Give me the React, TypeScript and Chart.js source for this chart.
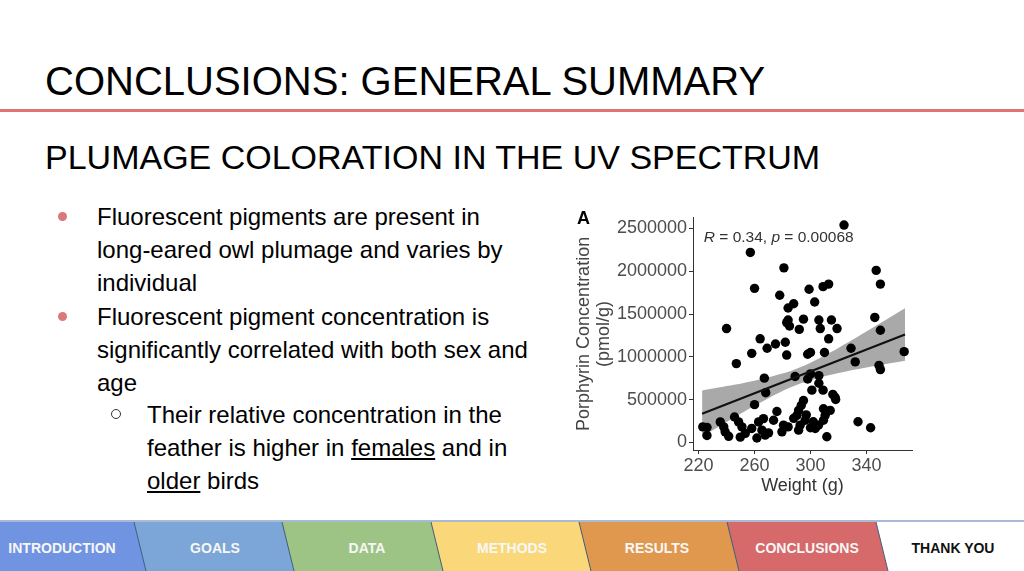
import React, { useEffect, useRef } from "react";
import { Chart, registerables } from "chart.js";

Chart.register(...registerables);

// ---- data ----
const weights = [
  257, 281, 260, 278, 299, 288, 284, 284, 295, 240, 285, 292, 324, 347, 350, 309, 313, 303, 306, 315,
  346, 307, 319, 350, 283, 264, 269, 275, 282, 283, 258, 247, 298, 300, 310, 313, 329, 332, 367, 349,
  350, 267, 268, 289, 300, 306, 298, 306, 301, 309, 316, 318, 260, 276, 334, 343,
  223, 226, 226, 235.5, 238, 239, 241.5, 245.7, 248.6, 251, 249.8, 253.4, 258, 262.9, 266.4, 261.7,
  265.3, 267.6, 273.6, 280.7, 279.6, 290.3, 296.2, 292.6, 291.5, 291.5, 293.4, 295, 309.3, 314.1,
  310.5, 309.3, 305.7, 303.4, 311.7, 317.6, 288, 300, 284, 270, 297, 302,
];
const concentrations = [
  2220000, 2040000, 1800000, 1720000, 1790000, 1620000, 1570000, 1430000, 1440000, 1330000, 1360000,
  1320000, 2540000, 2010000, 1850000, 1820000, 1850000, 1640000, 1430000, 1430000, 1460000, 1330000,
  1330000, 1310000, 1400000, 1210000, 1100000, 1150000, 1170000, 1020000, 1040000, 920000, 1030000,
  1050000, 1050000, 1210000, 1100000, 940000, 1060000, 900000, 850000, 750000, 580000, 770000, 800000,
  780000, 740000, 690000, 610000, 610000, 560000, 500000, 440000, 360000, 240000, 170000,
  180000, 175000, 80000, 238000, 180000, 122000, 70000, 296000, 238000, 180000, 60000, 104000, 162000,
  238000, 277000, 50000, 142000, 84000, 258000, 200000, 122000, 315000, 258000, 200000, 142000, 373000,
  431000, 488000, 392000, 373000, 315000, 258000, 200000, 162000, 65000, 527000, 280000, 170000, 180000,
  110000, 320000, 240000,
];
const fitX = [222.5, 367.6];
const fitY = [335000, 1260000];
const bandX = [222.5, 240, 260, 280, 290, 300, 320, 340, 367.6];
const bandUpper = [605000, 657000, 721000, 804000, 861000, 931000, 1104000, 1295000, 1567000];
const bandLower = [65000, 237000, 427000, 600000, 671000, 727000, 810000, 875000, 955000];
const xTicks = [220, 260, 300, 340];
const yTicks = [0, 500000, 1000000, 1500000, 2000000, 2500000];

const navLabels = ["INTRODUCTION", "GOALS", "DATA", "METHODS", "RESULTS", "CONCLUSIONS", "THANK YOU"];
const navColors = ["#7094e2", "#7da6d8", "#9ec485", "#fad87a", "#e0984e", "#d66969", "#ffffff"];

const FONT = "'Liberation Sans', Arial, sans-serif";

function ScatterChart() {
  const ref = useRef<HTMLCanvasElement | null>(null);
  useEffect(() => {
    if (!ref.current) return;
    const annot = {
      id: "annot",
      afterDatasetsDraw(chart: any) {
        const { ctx, scales } = chart;
        const x0 = scales.x.getPixelForValue(223.7);
        const y0 = scales.y.getPixelForValue(2397000);
        ctx.save();
        ctx.fillStyle = "#333333";
        ctx.textBaseline = "middle";
        const parts: [string, boolean][] = [
          ["R", true],
          [" = 0.34, ", false],
          ["p", true],
          [" = 0.00068", false],
        ];
        let x = x0;
        for (const [t, it] of parts) {
          ctx.font = `${it ? "italic " : ""}15.5px ${FONT}`;
          ctx.fillText(t, x, y0);
          x += ctx.measureText(t).width;
        }
        ctx.restore();
      },
    };
    const chart = new Chart(ref.current, {
      type: "scatter",
      data: {
        datasets: [
          {
            type: "line",
            data: bandX.map((x, i) => ({ x, y: bandUpper[i] })),
            borderWidth: 0,
            pointRadius: 0,
            fill: "+1",
            backgroundColor: "#a9a9a9",
            tension: 0.4,
            order: 5,
          } as any,
          {
            type: "line",
            data: bandX.map((x, i) => ({ x, y: bandLower[i] })),
            borderWidth: 0,
            pointRadius: 0,
            fill: false,
            tension: 0.4,
            order: 4,
          } as any,
          {
            data: weights.map((x, i) => ({ x, y: concentrations[i] })),
            pointRadius: 4.7,
            pointBackgroundColor: "#000000",
            pointBorderWidth: 0,
            order: 2,
          },
          {
            type: "line",
            data: fitX.map((x, i) => ({ x, y: fitY[i] })),
            borderColor: "#111111",
            borderWidth: 2.2,
            pointRadius: 0,
            fill: false,
            order: 0,
          } as any,
        ],
      },
      options: {
        animation: false,
        responsive: false,
        maintainAspectRatio: false,
        layout: { padding: { left: 0, right: 8, top: 10, bottom: 0 } },
        plugins: { legend: { display: false }, tooltip: { enabled: false } },
        scales: {
          x: {
            type: "linear",
            min: 216,
            max: 372.6,
            afterBuildTicks: (s: any) => {
              s.ticks = xTicks.map((v) => ({ value: v }));
            },
            afterFit: (s: any) => {
              s.height = 55;
            },
            grid: { display: true, drawOnChartArea: false, drawTicks: true, tickLength: 4, color: "#333333" },
            border: { display: true, color: "#333333", width: 1 },
            ticks: { color: "#4d4d4d", font: { size: 18, family: FONT }, padding: 1, maxRotation: 0 },
            title: {
              display: true,
              text: "Weight (g)",
              color: "#333333",
              font: { size: 18, family: FONT },
              padding: { top: 0, bottom: 8 },
            },
          },
          y: {
            type: "linear",
            min: -90000,
            max: 2625000,
            afterBuildTicks: (s: any) => {
              s.ticks = yTicks.map((v) => ({ value: v }));
            },
            afterFit: (s: any) => {
              s.width = 123;
            },
            grid: { display: true, drawOnChartArea: false, drawTicks: true, tickLength: 4, color: "#333333" },
            border: { display: true, color: "#333333", width: 1 },
            ticks: {
              color: "#4d4d4d",
              font: { size: 18, family: FONT },
              padding: 2,
              callback: (v: any) => String(v),
            },
            title: {
              display: true,
              text: ["Porphyrin Concentration", "(pmol/g)"],
              color: "#444444",
              font: { size: 18, family: FONT, lineHeight: 1.1 },
              padding: { top: 4, bottom: 0 },
            },
          },
        },
      },
      plugins: [annot],
    });
    return () => chart.destroy();
  }, []);
  return <canvas ref={ref} width={350} height={300} style={{ width: 350, height: 300, display: "block" }} />;
}

const lineStyle: React.CSSProperties = {
  position: "absolute",
  fontSize: 24,
  lineHeight: "33px",
  whiteSpace: "nowrap",
  color: "#000",
};

export default function App() {
  const navTop = [0, 134, 282, 431, 579, 727, 876, 1024];
  const navBot = [0, 146, 294, 443, 591, 739, 888, 1024];
  const navCenters = [62, 215, 367, 512, 657, 807, 953];
  const bulletLines: [number, number, React.ReactNode][] = [
    [97, 200, "Fluorescent pigments are present in"],
    [97, 233, "long-eared owl plumage and varies by"],
    [97, 266, "individual"],
    [97, 300, "Fluorescent pigment concentration is"],
    [97, 333, "significantly correlated with both sex and"],
    [97, 366, "age"],
    [147, 398, "Their relative concentration in the"],
    [147, 431, <>feather is higher in <u>females</u> and in</>],
    [147, 464, <><u>older</u> birds</>],
  ];
  return (
    <div
      style={{
        position: "fixed",
        left: 0,
        top: 0,
        width: 1024,
        height: 571,
        overflow: "hidden",
        background: "#ffffff",
        fontFamily: FONT,
      }}
    >
      <div style={{ position: "absolute", left: 45, top: 57, fontSize: 40, lineHeight: "48px", whiteSpace: "nowrap" }}>
        CONCLUSIONS: GENERAL SUMMARY
      </div>
      <div style={{ position: "absolute", left: 0, top: 109, width: 1024, height: 3, background: "#df7474" }} />
      <div style={{ position: "absolute", left: 45, top: 137, fontSize: 34, lineHeight: "40px", whiteSpace: "nowrap" }}>
        PLUMAGE COLORATION IN THE UV SPECTRUM
      </div>

      {/* bullets */}
      <div style={{ position: "absolute", left: 58, top: 212, width: 9, height: 9, borderRadius: "50%", background: "#d9797a" }} />
      <div style={{ position: "absolute", left: 58, top: 312, width: 9, height: 9, borderRadius: "50%", background: "#d9797a" }} />
      <div
        style={{
          position: "absolute",
          left: 111,
          top: 409,
          width: 8,
          height: 8,
          borderRadius: "50%",
          border: "1.5px solid #333",
        }}
      />
      {bulletLines.map(([l, t, txt], i) => (
        <div key={i} style={{ ...lineStyle, left: l, top: t }}>
          {txt}
        </div>
      ))}

      {/* chart */}
      <div style={{ position: "absolute", left: 570, top: 205, width: 350, height: 300 }}>
        <ScatterChart />
      </div>
      <div style={{ position: "absolute", left: 577, top: 208, fontSize: 18, fontWeight: "bold", lineHeight: "20px" }}>A</div>

      {/* nav bar */}
      <svg style={{ position: "absolute", left: 0, top: 520 }} width={1024} height={51}>
        <rect x={0} y={0} width={1024} height={2} fill="#a9bbd4" />
        {navColors.map((c, i) => (
          <polygon
            key={i}
            points={`${navTop[i]},2 ${navTop[i + 1]},2 ${navBot[i + 1]},51 ${navBot[i]},51`}
            fill={c}
          />
        ))}
        {navTop.slice(1, 7).map((x, i) => (
          <line key={i} x1={x} y1={2} x2={navBot[i + 1]} y2={51} stroke="#3f5b7a" strokeWidth={1} />
        ))}
      </svg>
      {navLabels.map((t, i) => (
        <div
          key={t}
          style={{
            position: "absolute",
            left: navCenters[i] - 80,
            width: 160,
            top: 538,
            lineHeight: "20px",
            textAlign: "center",
            fontSize: 14,
            fontWeight: "bold",
            color: i === 6 ? "#111" : "#f7f7f7",
          }}
        >
          {t}
        </div>
      ))}
    </div>
  );
}
